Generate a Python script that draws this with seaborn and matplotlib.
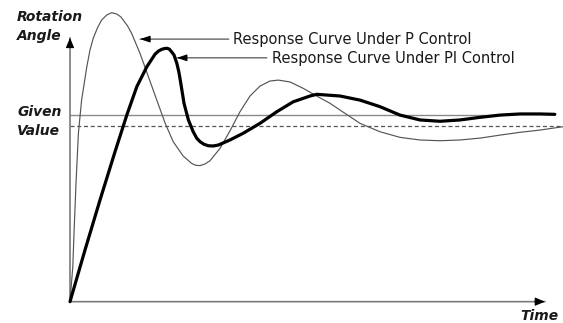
import matplotlib
matplotlib.use("Agg")
import matplotlib.pyplot as plt
import numpy as np
import pandas as pd
import seaborn as sns

sns.set_style("white")
plt.rcParams["font.family"] = ["DejaVu Sans"]

# Step response under proportional control (thin curve)
p_time = [0, 0.07, 0.10, 0.15, 0.21, 0.29, 0.42, 0.50, 0.58, 0.68, 0.79,
          0.92, 1.04, 1.17, 1.27, 1.33, 1.44, 1.54, 1.75, 1.96, 2.17, 2.38,
          2.58, 2.83, 3.04, 3.14, 3.25, 3.37, 3.50, 3.75, 4.00, 4.25, 4.50,
          4.75, 5.00, 5.21, 5.50, 5.83, 6.20, 6.50, 6.75, 7.25, 7.75, 8.25,
          8.75, 9.25, 9.75, 10.25, 10.75, 11.25, 11.75, 12.33]
p_angle = [0, 0.187, 0.365, 0.632, 0.900, 1.077, 1.255, 1.345, 1.407, 1.460,
           1.505, 1.532, 1.544, 1.537, 1.522, 1.505, 1.473, 1.434, 1.327,
           1.202, 1.077, 0.953, 0.855, 0.778, 0.739, 0.729, 0.727, 0.735,
           0.753, 0.819, 0.913, 1.015, 1.099, 1.152, 1.179, 1.184, 1.174,
           1.140, 1.095, 1.060, 1.024, 0.953, 0.908, 0.878, 0.864, 0.860,
           0.864, 0.874, 0.890, 0.905, 0.917, 0.935]

# Step response under proportional-integral control (thick curve)
pi_time = [0, 0.375, 0.75, 1.125, 1.42, 1.67, 1.92, 2.125, 2.21, 2.29, 2.35,
           2.42, 2.48, 2.54, 2.60, 2.67, 2.72, 2.77, 2.85, 2.96, 3.08, 3.17,
           3.25, 3.35, 3.46, 3.58, 3.71, 4.00, 4.33, 4.75, 5.17, 5.58, 6.00,
           6.17, 6.75, 7.25, 7.75, 8.25, 8.75, 9.25, 9.75, 10.25, 10.75,
           11.25, 11.75, 12.12]
pi_angle = [0, 0.276, 0.543, 0.801, 0.997, 1.149, 1.255, 1.322, 1.339, 1.348,
            1.352, 1.354, 1.350, 1.335, 1.318, 1.274, 1.229, 1.167, 1.060,
            0.971, 0.908, 0.873, 0.855, 0.841, 0.833, 0.832, 0.837, 0.864,
            0.900, 0.953, 1.015, 1.068, 1.099, 1.108, 1.099, 1.077, 1.042,
            0.997, 0.971, 0.964, 0.971, 0.985, 0.997, 1.003, 1.003, 1.001]

given_value = 1.0        # set point
p_steady_value = 0.939   # level the P response settles to (dashed)
given_end = 10.62

axis_labels = {"y": "Rotation\nAngle", "x": "Time", "ref": "Given\nValue"}
curve_labels = ["Response Curve Under P Control", "Response Curve Under PI Control"]

fig = plt.figure(figsize=(5.63, 3.23), dpi=100)
ax = fig.add_axes([0, 0, 1, 1])
ax.set_xlim(-1.75, 12.325)
ax.set_ylim(-0.114, 1.612)
ax.set_axis_off()


def arrow(tail, tip, line_color, lw, head_len_x=0.0, head_len_y=0.0,
          head=(0.55, 0.22)):
    """Grey shaft with a solid black arrowhead at the tip."""
    ax.annotate("", xy=tip, xytext=tail,
                arrowprops=dict(arrowstyle="-", color=line_color, lw=lw,
                                shrinkA=0, shrinkB=0), zorder=2)
    start = (tip[0] - head_len_x, tip[1] - head_len_y)
    ax.annotate("", xy=tip, xytext=start,
                arrowprops=dict(arrowstyle=f"-|>,head_length={head[0]},"
                                           f"head_width={head[1]}",
                                color="black", lw=0.8, shrinkA=0, shrinkB=0),
                zorder=2)


# Reference levels
ax.plot([0, given_end], [given_value, given_value], color="#8a8a8a", lw=1.0,
        zorder=1)
ax.plot([0, 13], [p_steady_value, p_steady_value], color="#555555", lw=0.9,
        dashes=(3.2, 2.2), zorder=1)

# Axes drawn as arrows
arrow((0, 0), (11.875, 0), "#7a7a7a", 1.2, head_len_x=0.25,
      head=(0.6, 0.25))
arrow((0, 0), (0, 1.41), "#7a7a7a", 1.2, head_len_y=0.05, head=(0.6, 0.25))

p_df = pd.DataFrame({"t": p_time, "angle": p_angle})
pi_df = pd.DataFrame({"t": pi_time, "angle": pi_angle})
sns.lineplot(data=p_df, x="t", y="angle", ax=ax, color="#555555", lw=0.85,
             sort=False, zorder=3, clip_on=False)
sns.lineplot(data=pi_df, x="t", y="angle", ax=ax, color="black", lw=2.3,
             sort=False, zorder=4, solid_joinstyle="round")

lab_kw = dict(fontsize=10, fontweight="bold", fontstyle="italic",
              color="#1a1a1a", ha="left", va="center", linespacing=1.4)
ax.text(-1.325, 1.47, axis_labels["y"], **lab_kw)
ax.text(-1.325, 0.962, axis_labels["ref"], **lab_kw)
ax.text(11.27, -0.074, axis_labels["x"], **lab_kw)

# Curve callouts
txt_kw = dict(fontsize=10.5, color="#1a1a1a", ha="left", va="center")
ax.text(4.075, 1.403, curve_labels[0], **txt_kw)
arrow((3.97, 1.403), (1.75, 1.403), "#555555", 0.9, head_len_x=-0.25,
      head=(0.6, 0.2))
ax.text(5.05, 1.298, curve_labels[1], **txt_kw)
arrow((4.92, 1.303), (2.67, 1.303), "#555555", 0.9, head_len_x=-0.25,
      head=(0.6, 0.2))

fig.savefig("out.png", dpi=100)
